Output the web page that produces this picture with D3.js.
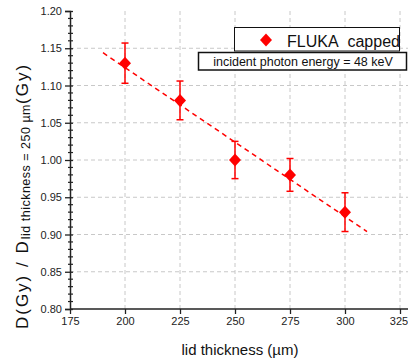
<!DOCTYPE html>
<html>
<head>
<meta charset="utf-8">
<script src="https://cdn.jsdelivr.net/npm/d3@7"></script>
<style>
  html, body { margin: 0; padding: 0; background: #fff; }
  svg { display: block; }
  text { font-family: "Liberation Sans", Arial, sans-serif; }
</style>
</head>
<body>
<svg id="chart" width="408" height="360"></svg>
<script>
// ---- data ----
const thickness = [200, 225, 250, 275, 300];
const doseRatio = [1.13, 1.08, 1.00, 0.98, 0.93];
const doseError = [0.027, 0.026, 0.025, 0.022, 0.026];
const fitX = [190, 310];
const fitY = [1.144, 0.904];
const xTicks = [175, 200, 225, 250, 275, 300, 325];
const yTicks = [0.80, 0.85, 0.90, 0.95, 1.00, 1.05, 1.10, 1.15, 1.20];
const yGrid = [0.85, 0.90, 0.95, 1.00, 1.05, 1.10, 1.15];
const xGrid = [200, 225, 250, 275, 300, 325];
const legendLabel = "FLUKA\u00a0\u00a0capped";
const noteLabel = "incident photon energy = 48 keV";

const svg = d3.select("#chart");
const W = 408, H = 360;
const x = d3.scaleLinear().domain([175, 328]).range([70, 406.6]);
const y = d3.scaleLinear().domain([0.80, 1.20]).range([309, 11]);
const red = "#ff0000";

// grid
svg.append("g").selectAll("line").data(yGrid).join("line")
  .attr("x1", x(175)).attr("x2", W).attr("y1", d => y(d)).attr("y2", d => y(d))
  .attr("stroke", "#c8c8c8").attr("stroke-width", 1).attr("stroke-dasharray", "4,3");
svg.append("g").selectAll("line").data(xGrid).join("line")
  .attr("x1", d => x(d)).attr("x2", d => x(d)).attr("y1", y(0.80)).attr("y2", y(1.20))
  .attr("stroke", "#c8c8c8").attr("stroke-width", 1).attr("stroke-dasharray", "4,3");

// fit line
svg.append("line")
  .attr("x1", x(fitX[0])).attr("y1", y(fitY[0]))
  .attr("x2", x(fitX[1])).attr("y2", y(fitY[1]))
  .attr("stroke", red).attr("stroke-width", 1.5).attr("stroke-dasharray", "5,4");

// error bars
const eg = svg.append("g").attr("stroke", red).attr("stroke-width", 1.5);
thickness.forEach((t, i) => {
  const cx = x(t), lo = y(doseRatio[i] - doseError[i]), hi = y(doseRatio[i] + doseError[i]);
  eg.append("line").attr("x1", cx).attr("x2", cx).attr("y1", lo).attr("y2", hi);
  eg.append("line").attr("x1", cx - 3.5).attr("x2", cx + 3.5).attr("y1", lo).attr("y2", lo);
  eg.append("line").attr("x1", cx - 3.5).attr("x2", cx + 3.5).attr("y1", hi).attr("y2", hi);
});

// markers
const diamond = "M0,-6.5L6,0L0,6.5L-6,0Z";
svg.append("g").selectAll("path").data(thickness).join("path")
  .attr("d", diamond)
  .attr("transform", (d, i) => `translate(${x(d)},${y(doseRatio[i])})`)
  .attr("fill", red);

// y axis
const yAxis = d3.axisLeft(y).tickValues(yTicks).tickFormat(d3.format(".2f")).tickSize(5).tickPadding(3);
const gy = svg.append("g").attr("transform", `translate(${x(175)},0)`).call(yAxis);
gy.select(".domain").attr("stroke", "#222").attr("stroke-width", 1.5);
gy.selectAll(".tick line").attr("stroke", "#222").attr("stroke-width", 1.3).attr("x2", 3).attr("x1", -5);
gy.selectAll(".tick text").attr("font-size", 11).attr("fill", "#222").attr("font-family", "Liberation Sans, Arial, sans-serif");
// minor ticks
const minor = d3.range(80, 121).map(v => v / 100).filter(v => Math.round(v * 100) % 5 !== 0);
svg.append("g").selectAll("line").data(minor).join("line")
  .attr("x1", x(175) - 2).attr("x2", x(175) + 3).attr("y1", d => y(d)).attr("y2", d => y(d))
  .attr("stroke", "#222").attr("stroke-width", 1.2);

// x axis
const xAxis = d3.axisBottom(x).tickValues(xTicks).tickFormat(d3.format("d")).tickSize(5).tickPadding(3);
const gx = svg.append("g").attr("transform", `translate(0,${y(0.80)})`).call(xAxis);
gx.select(".domain").attr("stroke", "#222").attr("stroke-width", 1.5).attr("d", `M${x(175)},0H${W}`);
gx.selectAll(".tick line").attr("stroke", "#222").attr("stroke-width", 1.3);
gx.selectAll(".tick text").attr("font-size", 11).attr("fill", "#222").attr("font-family", "Liberation Sans, Arial, sans-serif")
  .attr("dx", d => d === 325 ? -1.5 : 0);

// x label
svg.append("text").attr("x", 240).attr("y", 355).attr("text-anchor", "middle")
  .attr("font-size", 15).attr("fill", "#111").text("lid thickness (µm)");

// y label
const yl = svg.append("text").attr("transform", "translate(28,196) rotate(-90)")
  .attr("text-anchor", "middle").attr("fill", "#111");
yl.append("tspan").attr("font-size", 17).attr("letter-spacing", 2).text("D(Gy) / D");
yl.append("tspan").attr("font-size", 12.5).attr("dy", 2).attr("letter-spacing", 0.5).text("lid thickness = 250 µm");
yl.append("tspan").attr("font-size", 17).attr("dy", -2).attr("letter-spacing", 2).text("(Gy)");

// legend box
svg.append("rect").attr("x", 234.5).attr("y", 27.5).attr("width", 165).attr("height", 23.5)
  .attr("fill", "#fff").attr("stroke", "#111").attr("stroke-width", 1);
svg.append("path").attr("d", diamond).attr("transform", "translate(266,40)").attr("fill", red);
svg.append("text").attr("x", 287).attr("y", 46.5).attr("font-size", 16).attr("fill", "#111")
  .text(legendLabel);

// note box
svg.append("rect").attr("x", 198.5).attr("y", 52.5).attr("width", 208).attr("height", 17.5)
  .attr("fill", "#fff").attr("stroke", "#111").attr("stroke-width", 1.5);
svg.append("text").attr("x", 303).attr("y", 65.5).attr("text-anchor", "middle").attr("font-size", 12.5).attr("fill", "#111")
  .text(noteLabel);
</script>
</body>
</html>
